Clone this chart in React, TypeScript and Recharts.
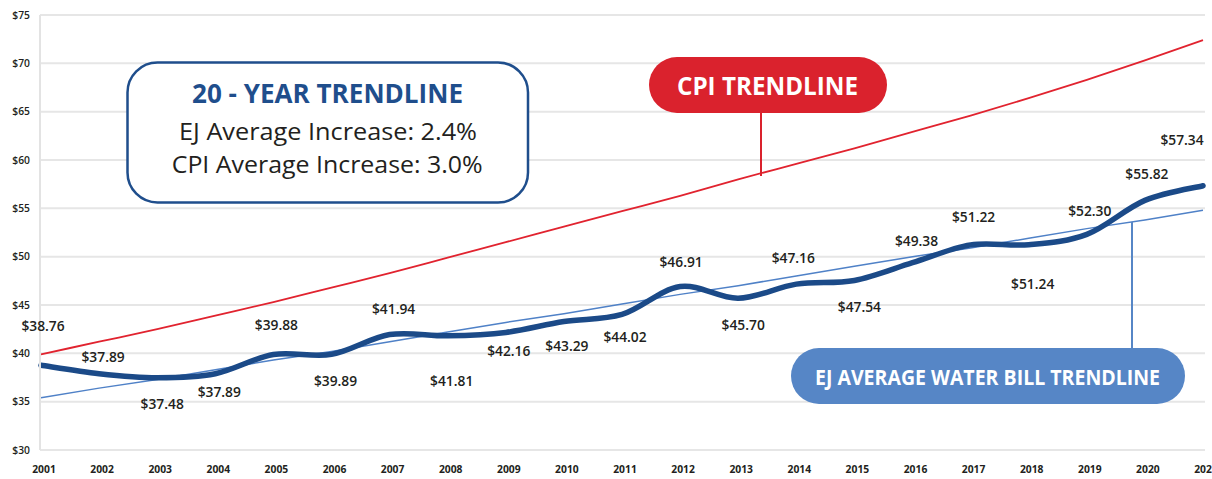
import React from 'react';
import { LineChart, Line, XAxis, YAxis, CartesianGrid } from 'recharts';

const years = [2001, 2002, 2003, 2004, 2005, 2006, 2007, 2008, 2009, 2010, 2011, 2012, 2013, 2014, 2015, 2016, 2017, 2018, 2019, 2020, 2021];
const ejBill = [38.76, 37.89, 37.48, 37.89, 39.88, 39.89, 41.94, 41.81, 42.16, 43.29, 44.02, 46.91, 45.7, 47.16, 47.54, 49.38, 51.22, 51.24, 52.3, 55.82, 57.34];
const cpiTrend = [39.9, 41.2, 42.5, 43.9, 45.3, 46.8, 48.3, 49.9, 51.5, 53.1, 54.7, 56.3, 58.0, 59.6, 61.2, 62.9, 64.6, 66.4, 68.3, 70.3, 72.4];
const ejTrend = [35.4, 36.4, 37.3, 38.3, 39.3, 40.2, 41.2, 42.2, 43.2, 44.1, 45.1, 46.1, 47.0, 48.0, 49.0, 50.0, 50.9, 51.9, 52.9, 53.8, 54.8];
const yTicks = [30, 35, 40, 45, 50, 55, 60, 65, 70, 75];

// label placement offsets (style, not data)
const labelDx = [2, 4, 5, 4, 3, 4, 4, 4, 3, 3, 3, 1, 5, -3, 5, 4, 3, 4, 3, 2, -21];
const labelDy = [-39, -17, 26, 18, -29, 27, -26, 45, 19, 25, 23, -25, 27, -26, 27, -22, -28, 39, -23, -26, -46];

const data = years.map((year, i) => ({ year, ej: ejBill[i], cpi: cpiTrend[i], trend: ejTrend[i] }));

const FONT = "'Open Sans', 'DejaVu Sans', sans-serif";

// Excel-like smoothed line (Catmull-Rom / cardinal with tension 0)
const smoothCurve: any = (context: any) => {
  let pts: number[][] = [];
  return {
    areaStart() {},
    areaEnd() {},
    lineStart() { pts = []; },
    point(x: number, y: number) { pts.push([+x, +y]); },
    lineEnd() {
      if (!pts.length) return;
      context.moveTo(pts[0][0], pts[0][1]);
      for (let i = 0; i < pts.length - 1; i++) {
        const p0 = pts[i - 1] || pts[i];
        const p1 = pts[i];
        const p2 = pts[i + 1];
        const p3 = pts[i + 2] || p2;
        const c1x = p1[0] + (p2[0] - p0[0]) / 6;
        const c1y = p1[1] + (p2[1] - p0[1]) / 6;
        const c2x = p2[0] - (p3[0] - p1[0]) / 6;
        const c2y = p2[1] - (p3[1] - p1[1]) / 6;
        context.bezierCurveTo(c1x, c1y, c2x, c2y, p2[0], p2[1]);
      }
    },
  };
};

const renderLabel = (props: any) => {
  const { cx, cy, index } = props;
  if (cx == null || cy == null) return <g key={`l-${index}`} />;
  return (
    <text
      key={`l-${index}`}
      x={cx + labelDx[index]}
      y={cy + labelDy[index]}
      dy="0.36em"
      textAnchor="middle"
      fontFamily={FONT}
      fontSize={13.8}
      fontWeight={600}
      fill="#231f20"
    >
      {`$${ejBill[index].toFixed(2)}`}
    </text>
  );
};

const Annotations = () => (
  <svg width={1212} height={479} style={{ position: 'absolute', left: 0, top: 0, pointerEvents: 'none' }}>
    {/* 20 year box */}
    <rect x={127.5} y={62.5} width={400.5} height={140} rx={30} ry={30} fill="#ffffff" stroke="#1f4e8c" strokeWidth={2.5} />
    <text x={327.5} y={102.5} textAnchor="middle" fontFamily={FONT} fontSize={26} fontWeight={700} fill="#1f4e8c" textLength={271} lengthAdjust="spacingAndGlyphs">20 - YEAR TRENDLINE</text>
    <text x={328} y={140} textAnchor="middle" fontFamily={FONT} fontSize={23} fontWeight={400} fill="#231f20" textLength={298} lengthAdjust="spacingAndGlyphs">EJ Average Increase: 2.4%</text>
    <text x={327.2} y={173} textAnchor="middle" fontFamily={FONT} fontSize={23} fontWeight={400} fill="#231f20" textLength={311} lengthAdjust="spacingAndGlyphs">CPI Average Increase: 3.0%</text>

    {/* CPI pill */}
    <line x1={761} y1={110} x2={761} y2={176} stroke="#da222d" strokeWidth={2} />
    <rect x={649} y={57} width={238} height={56} rx={28} ry={28} fill="#da222d" />
    <text x={767.5} y={95} textAnchor="middle" fontFamily={FONT} fontSize={25} fontWeight={700} fill="#ffffff" textLength={181} lengthAdjust="spacingAndGlyphs">CPI TRENDLINE</text>

    {/* EJ pill */}
    <line x1={1132} y1={222} x2={1132} y2={352} stroke="#5686c6" strokeWidth={2} />
    <rect x={791} y={348} width={394} height={56} rx={28} ry={28} fill="#5686c6" />
    <text x={987.5} y={385} textAnchor="middle" fontFamily={FONT} fontSize={20.5} fontWeight={700} fill="#ffffff" textLength={345} lengthAdjust="spacingAndGlyphs">EJ AVERAGE WATER BILL TRENDLINE</text>
  </svg>
);

export default function App() {
  return (
    <div style={{ position: 'absolute', left: 0, top: 0, width: 1212, height: 479, background: '#ffffff', overflow: 'hidden' }}>
      <LineChart width={1212} height={479} data={data} margin={{ top: 15, right: 7, bottom: 0, left: 0 }}>
        <CartesianGrid vertical={false} stroke="#e6e6e6" strokeWidth={2} />
        <XAxis
          dataKey="year"
          type="number"
          domain={[2001, 2021]}
          ticks={years}
          interval={0}
          padding={{ left: 1, right: 2 }}
          axisLine={false}
          tickLine={false}
          height={29}
          tickMargin={10}
          tick={{ fill: '#231f20', fontSize: 10.3, fontWeight: 700, fontFamily: FONT, dx: 3 }}
        />
        <YAxis
          domain={[30, 75]}
          ticks={yTicks}
          width={40}
          interval={0}
          axisLine={{ stroke: '#e3e3e3', strokeWidth: 2 }}
          tickLine={false}
          tickMargin={4}
          tickFormatter={(v: number) => `$${v}`}
          tick={{ fill: '#231f20', fontSize: 10.3, fontWeight: 600, fontFamily: FONT }}
        />
        <Line dataKey="cpi" type="monotone" stroke="#e1232f" strokeWidth={1.8} dot={false} isAnimationActive={false} />
        <Line dataKey="trend" type="linear" stroke="#4f81c7" strokeWidth={1.5} dot={false} isAnimationActive={false} />
        <Line dataKey="ej" type={smoothCurve} stroke="#1b4a88" strokeWidth={5.5} strokeLinecap="round" dot={renderLabel} activeDot={false} isAnimationActive={false} />
      </LineChart>
      <Annotations />
    </div>
  );
}
